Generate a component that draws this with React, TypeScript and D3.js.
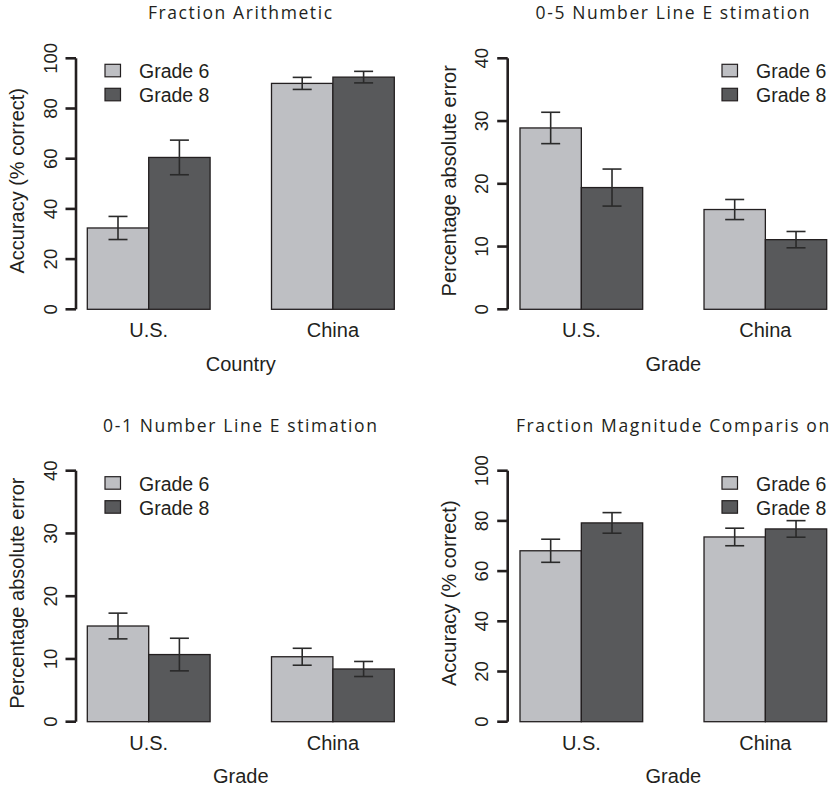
import React from 'react';
import { scaleBand, scaleLinear } from 'd3';

const countries = ['U.S.', 'China'];
const grades = ['Grade 6', 'Grade 8'];

const arithGrade6 = [32.4, 90.0];
const arithGrade8 = [60.5, 92.5];
const arithErr6 = [4.6, 2.4];
const arithErr8 = [6.9, 2.3];

const nl5Grade6 = [28.9, 15.9];
const nl5Grade8 = [19.4, 11.1];
const nl5Err6 = [2.5, 1.6];
const nl5Err8 = [2.95, 1.3];

const nl1Grade6 = [15.25, 10.35];
const nl1Grade8 = [10.7, 8.4];
const nl1Err6 = [2.05, 1.35];
const nl1Err8 = [2.6, 1.2];

const magGrade6 = [68.1, 73.6];
const magGrade8 = [79.2, 76.8];
const magErr6 = [4.6, 3.5];
const magErr8 = [4.1, 3.3];

const accuracyTicks = [0, 20, 40, 60, 80, 100];
const errorTicks = [0, 10, 20, 30, 40];

const FILL = ['#bebfc3', '#58595b'];
const INK = '#231f20';
const SANS = '"Liberation Sans", Arial, sans-serif';
const TITLE_FONT = '"Open Sans", "Noto Sans", sans-serif';

type PanelProps = {
  title: string;
  yLabel: string;
  xLabel: string;
  ticks: number[];
  g6: number[];
  g8: number[];
  e6: number[];
  e8: number[];
  axisX: number;
  y0: number;
  yTop: number;
  barLeft: number;
  barRight: number;
  legendRight?: boolean;
};

const Panel = (p: PanelProps) => {
  const yMax = p.ticks[p.ticks.length - 1];
  const y = scaleLinear().domain([0, yMax]).range([p.y0, p.yTop]);
  // barplot(beside=TRUE): one bar width of space between groups
  const x = scaleBand().domain(countries).range([p.barLeft, p.barRight]).paddingInner(1 / 3);
  const xg = scaleBand().domain(grades).range([0, x.bandwidth()]);
  const vals = [p.g6, p.g8];
  const errs = [p.e6, p.e8];
  const midX = (p.barLeft + p.barRight) / 2;
  const midY = (p.y0 + p.yTop) / 2 - 3;
  const legX = p.legendRight ? p.axisX + 214.3 : p.axisX + 29;

  return (
    <g>
      <text x={midX} y={p.y0 - 290} textAnchor="middle" fontFamily={TITLE_FONT}
        fontSize={17.5} letterSpacing={1.6} fill={INK}>{p.title}</text>

      {countries.map((c, ci) => grades.map((g, gi) => {
        const bx = (x(c) as number) + (xg(g) as number);
        const v = vals[gi][ci];
        const e = errs[gi][ci];
        const cx = bx + xg.bandwidth() / 2;
        return (
          <g key={c + g}>
            <rect x={bx} y={y(v)} width={xg.bandwidth()} height={p.y0 - y(v)}
              fill={FILL[gi]} stroke={INK} strokeWidth={1.3} />
            <g stroke="#2a2a2a" strokeWidth={1.6}>
              <line x1={cx} x2={cx} y1={y(v + e)} y2={y(v - e)} />
              <line x1={cx - 9.5} x2={cx + 9.5} y1={y(v + e)} y2={y(v + e)} />
              <line x1={cx - 9.5} x2={cx + 9.5} y1={y(v - e)} y2={y(v - e)} />
            </g>
          </g>
        );
      }))}

      <line x1={p.axisX} x2={p.axisX} y1={y(0)} y2={y(yMax)} stroke={INK} strokeWidth={2.6} />
      {p.ticks.map(t => (
        <g key={t}>
          <line x1={p.axisX - 10.5} x2={p.axisX} y1={y(t)} y2={y(t)} stroke={INK} strokeWidth={2.6} />
          <text transform={`translate(${p.axisX - 19.5},${y(t)}) rotate(-90)`} textAnchor="middle"
            fontFamily={SANS} fontSize={18.5} fill={INK}>{t}</text>
        </g>
      ))}
      <text transform={`translate(${p.axisX - 52},${midY}) rotate(-90)`} textAnchor="middle"
        fontFamily={SANS} fontSize={20} fill={INK}>{p.yLabel}</text>

      {countries.map(c => (
        <text key={c} x={(x(c) as number) + x.bandwidth() / 2} y={p.y0 + 28} textAnchor="middle"
          fontFamily={SANS} fontSize={20} fill={INK}>{c}</text>
      ))}
      <text x={midX} y={p.y0 + 61.7} textAnchor="middle" fontFamily={SANS} fontSize={20} fill={INK}>{p.xLabel}</text>

      {grades.map((g, gi) => (
        <g key={g}>
          <rect x={legX} y={p.yTop + 6 + gi * 24} width={15.5} height={12.5}
            fill={FILL[gi]} stroke={INK} strokeWidth={1.2} />
          <text x={legX + 34} y={p.yTop + 20 + gi * 24} fontFamily={SANS} fontSize={19.5} fill={INK}>{g}</text>
        </g>
      ))}
    </g>
  );
};

export default function App() {
  return (
    <svg width={832} height={787} style={{ position: 'absolute', left: 0, top: 0, background: '#fff' }}>
      <Panel title="Fraction Arithmetic" yLabel="Accuracy (% correct)" xLabel="Country"
        ticks={accuracyTicks} g6={arithGrade6} g8={arithGrade8} e6={arithErr6} e8={arithErr8}
        axisX={76} y0={309.3} yTop={58.3} barLeft={87.3} barRight={394.3} />
      <Panel title="0-5 Number Line E stimation" yLabel="Percentage absolute error" xLabel="Grade"
        ticks={errorTicks} g6={nl5Grade6} g8={nl5Grade8} e6={nl5Err6} e8={nl5Err8}
        axisX={507.7} y0={309.3} yTop={58.3} barLeft={520} barRight={826.7} legendRight />
      <Panel title="0-1 Number Line E stimation" yLabel="Percentage absolute error" xLabel="Grade"
        ticks={errorTicks} g6={nl1Grade6} g8={nl1Grade8} e6={nl1Err6} e8={nl1Err8}
        axisX={76} y0={721.7} yTop={470.7} barLeft={87.3} barRight={394.3} />
      <Panel title="Fraction Magnitude Comparis on" yLabel="Accuracy (% correct)" xLabel="Grade"
        ticks={accuracyTicks} g6={magGrade6} g8={magGrade8} e6={magErr6} e8={magErr8}
        axisX={507.7} y0={721.7} yTop={470.7} barLeft={520} barRight={826.7} legendRight />
    </svg>
  );
}
